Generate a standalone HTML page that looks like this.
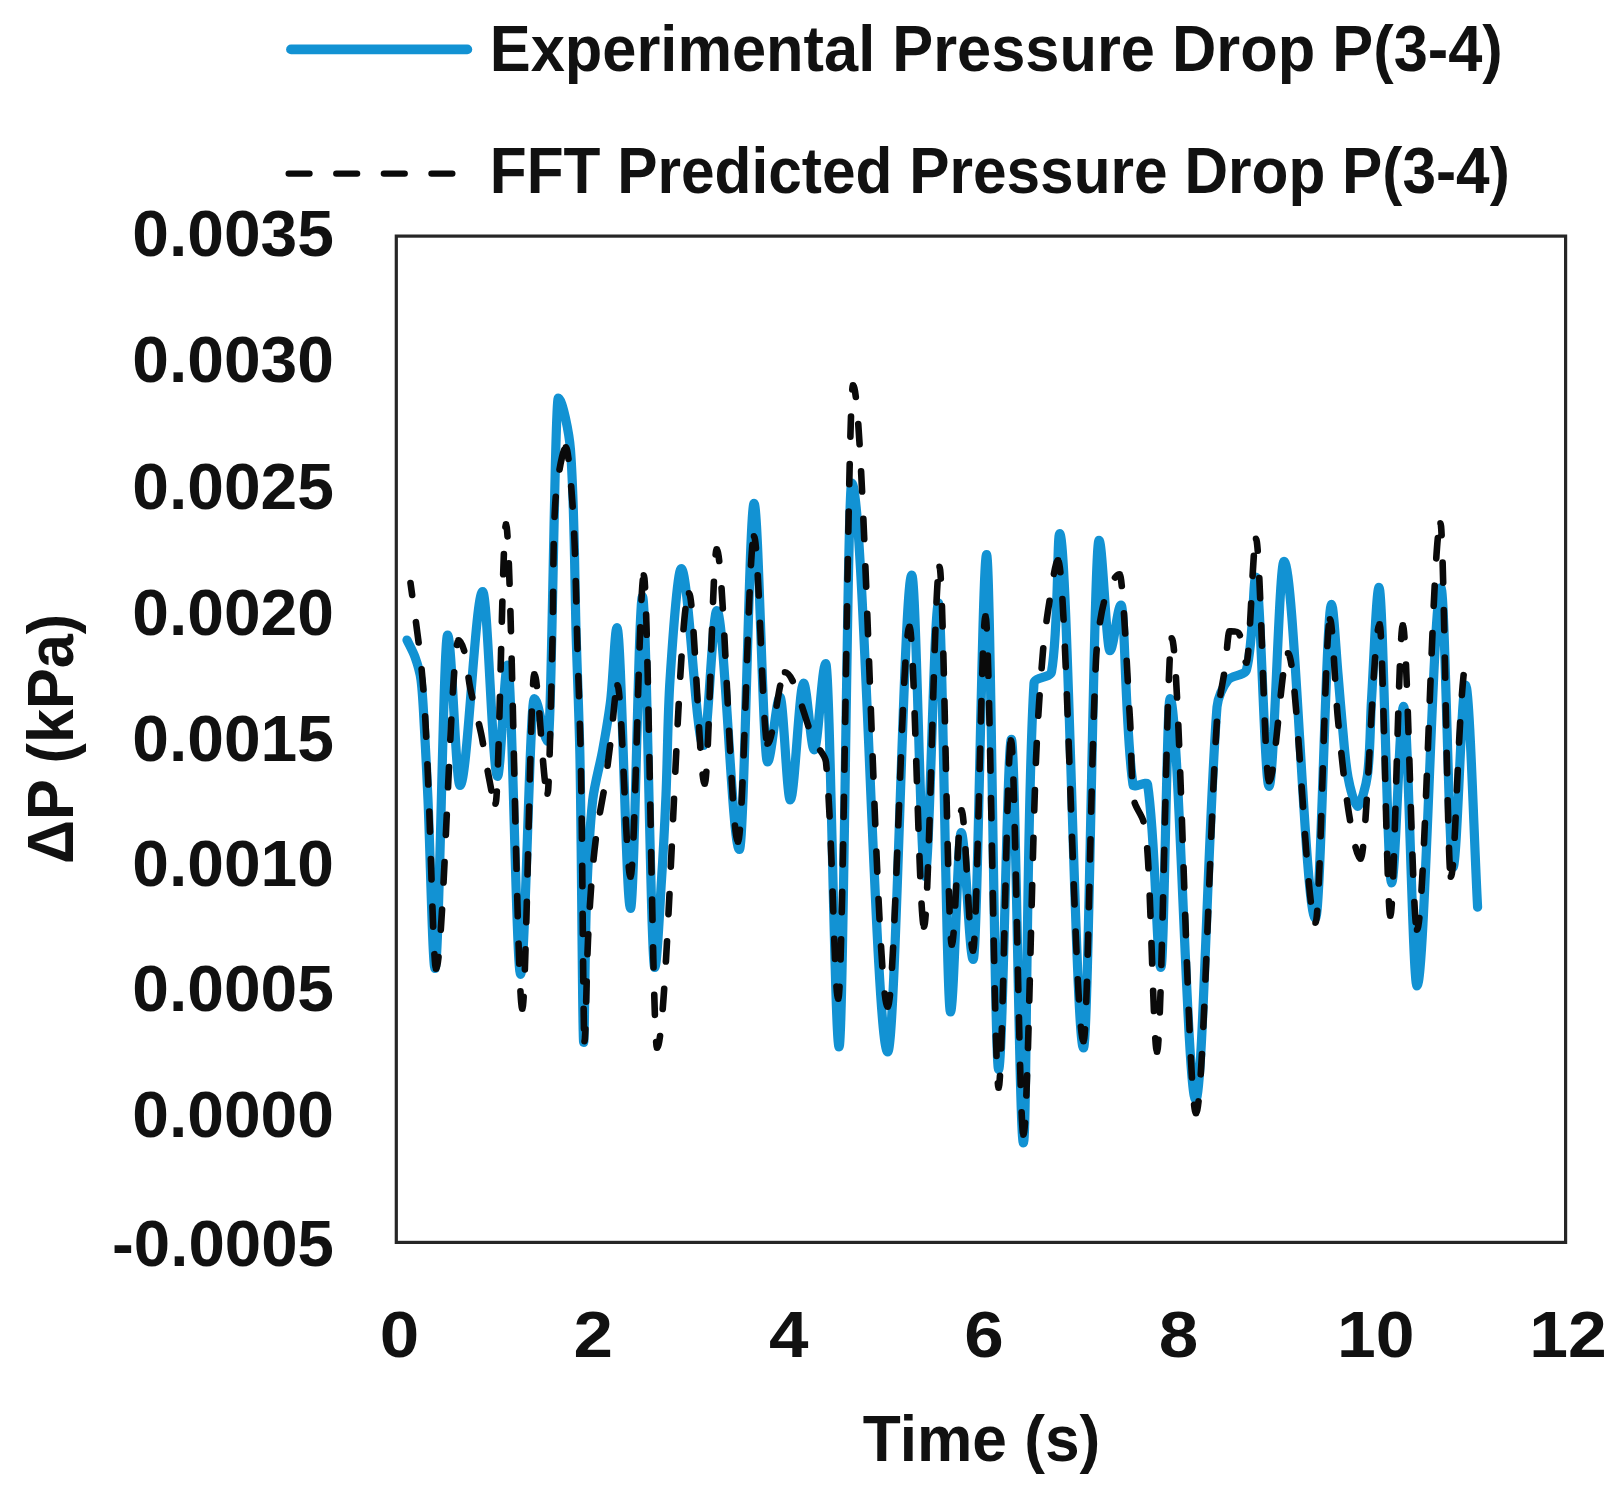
<!DOCTYPE html>
<html><head><meta charset="utf-8"><title>Pressure Drop P(3-4)</title>
<style>
html,body{margin:0;padding:0;background:#fff;}
svg{display:block}
text{font-family:"Liberation Sans",sans-serif;font-weight:bold;font-size:64px;fill:#111;}
</style></head><body>
<svg width="1619" height="1497" viewBox="0 0 1619 1497">
<rect width="1619" height="1497" fill="#fff"/>
<line x1="291" y1="49.4" x2="467.3" y2="49.4" stroke="#1292d3" stroke-width="9.8" stroke-linecap="round"/>
<line x1="288.7" y1="173.6" x2="453" y2="173.6" stroke="#0a0a0a" stroke-width="6.4" stroke-dasharray="20.8 26.8" stroke-linecap="round"/>
<text x="489.8" y="71.4" text-anchor="start" textLength="1013" lengthAdjust="spacingAndGlyphs">Experimental Pressure Drop P(3-4)</text>
<text x="489.8" y="193.3" text-anchor="start" textLength="1020" lengthAdjust="spacingAndGlyphs">FFT Predicted Pressure Drop P(3-4)</text>
<rect x="396.3" y="236.1" width="1169.3" height="1006.3000000000001" fill="none" stroke="#262626" stroke-width="3.2"/>
<text x="333.9" y="255.6" text-anchor="end" textLength="201.6" lengthAdjust="spacingAndGlyphs">0.0035</text>
<text x="333.9" y="381.7" text-anchor="end" textLength="201.6" lengthAdjust="spacingAndGlyphs">0.0030</text>
<text x="333.9" y="509.1" text-anchor="end" textLength="201.6" lengthAdjust="spacingAndGlyphs">0.0025</text>
<text x="333.9" y="635.1" text-anchor="end" textLength="201.6" lengthAdjust="spacingAndGlyphs">0.0020</text>
<text x="333.9" y="760.7" text-anchor="end" textLength="201.6" lengthAdjust="spacingAndGlyphs">0.0015</text>
<text x="333.9" y="885.6" text-anchor="end" textLength="201.6" lengthAdjust="spacingAndGlyphs">0.0010</text>
<text x="333.9" y="1011.4" text-anchor="end" textLength="201.6" lengthAdjust="spacingAndGlyphs">0.0005</text>
<text x="333.9" y="1137.3" text-anchor="end" textLength="201.6" lengthAdjust="spacingAndGlyphs">0.0000</text>
<text x="333.9" y="1266.2" text-anchor="end" textLength="221.8" lengthAdjust="spacingAndGlyphs">-0.0005</text>
<text x="399.6" y="1356.6" text-anchor="middle" textLength="39.5" lengthAdjust="spacingAndGlyphs">0</text>
<text x="593.2" y="1356.6" text-anchor="middle" textLength="39.5" lengthAdjust="spacingAndGlyphs">2</text>
<text x="788.8" y="1356.6" text-anchor="middle" textLength="39.5" lengthAdjust="spacingAndGlyphs">4</text>
<text x="983.9" y="1356.6" text-anchor="middle" textLength="39.5" lengthAdjust="spacingAndGlyphs">6</text>
<text x="1178.6" y="1356.6" text-anchor="middle" textLength="39.5" lengthAdjust="spacingAndGlyphs">8</text>
<text x="1375.7" y="1356.6" text-anchor="middle" textLength="77.5" lengthAdjust="spacingAndGlyphs">10</text>
<text x="1568.0" y="1356.6" text-anchor="middle" textLength="77.5" lengthAdjust="spacingAndGlyphs">12</text>
<text x="981.5" y="1461" text-anchor="middle" textLength="237.5" lengthAdjust="spacingAndGlyphs">Time (s)</text>
<text transform="translate(72.7,739) rotate(-90)" text-anchor="middle" textLength="250" lengthAdjust="spacingAndGlyphs">ΔP (kPa)</text>
<path d="M407.0,640.0C409.4,645.1 413.1,651.7 415.0,657.0C417.4,663.7 420.1,672.9 421.0,680.0C422.9,694.9 423.6,715.0 424.5,730.0C425.7,751.0 427.1,779.0 428.0,800.0C430.2,850.5 432.7,968.4 435.0,968.4C439.2,968.4 443.4,635.1 447.6,635.1C451.7,635.1 455.9,785.4 460.0,785.4C467.5,785.4 475.2,591.6 482.7,591.6C487.6,591.6 492.6,776.4 497.5,776.4C500.8,776.4 504.3,665.1 507.6,665.1C511.9,665.1 516.3,974.4 520.6,974.4C525.1,974.4 529.8,698.6 534.3,698.6C538.8,698.6 543.5,741.4 548.0,741.4C551.4,741.4 554.9,398.1 558.3,398.1C562.3,398.1 569.3,434.1 570.5,450.0C574.7,506.0 574.5,580.9 576.2,637.0C577.3,673.9 579.3,723.1 580.0,760.0C581.6,844.7 582.5,1042.4 583.7,1042.4C584.6,1042.4 584.9,942.7 586.5,900.0C587.6,870.0 589.5,829.9 592.7,800.0C594.3,784.8 600.0,765.1 602.7,750.0C605.4,735.0 608.9,715.1 610.7,700.0C613.2,678.3 614.9,627.6 617.0,627.6C621.5,627.6 626.0,908.4 630.5,908.4C634.5,908.4 638.5,596.6 642.5,596.6C646.6,596.6 650.7,967.4 654.8,967.4C657.0,967.4 659.8,906.2 661.5,880.0C663.2,854.5 664.9,820.5 666.0,795.0C667.5,760.5 667.7,714.4 670.0,680.0C672.2,646.5 677.5,568.6 681.2,568.6C688.5,568.6 696.1,745.4 703.4,745.4C707.9,745.4 712.4,610.6 716.9,610.6C724.3,610.6 732.0,849.4 739.4,849.4C744.3,849.4 749.2,503.4 754.1,503.4C758.5,503.4 763.1,761.9 767.5,761.9C771.6,761.9 775.9,697.1 780.0,697.1C783.4,697.1 786.9,799.9 790.3,799.9C794.7,799.9 799.2,683.1 803.6,683.1C807.1,683.1 810.7,749.9 814.2,749.9C818.0,749.9 821.9,663.6 825.7,663.6C830.1,663.6 834.7,1046.9 839.1,1046.9C843.3,1046.9 847.5,483.1 851.7,483.1C863.6,483.1 875.8,1051.9 887.7,1051.9C895.7,1051.9 903.8,575.1 911.8,575.1C916.2,575.1 920.6,876.4 925.0,876.4C929.5,876.4 934.0,603.1 938.5,603.1C942.5,603.1 946.5,1011.9 950.5,1011.9C954.0,1011.9 957.7,832.6 961.2,832.6C965.2,832.6 969.2,959.4 973.2,959.4C977.6,959.4 982.2,554.6 986.6,554.6C990.6,554.6 994.6,1069.4 998.6,1069.4C1002.8,1069.4 1007.2,739.3 1011.4,739.3C1015.4,739.3 1019.4,1142.8 1023.4,1142.8C1026.9,1142.8 1025.8,820.7 1034.0,683.0C1034.4,676.8 1050.4,678.1 1051.5,672.0C1058.6,631.0 1057.0,533.6 1059.7,533.6C1067.6,533.6 1075.6,1047.9 1083.5,1047.9C1088.6,1047.9 1093.9,540.3 1099.0,540.3C1102.6,540.3 1106.4,650.7 1110.0,650.7C1113.6,650.7 1117.4,605.1 1121.0,605.1C1125.0,605.1 1125.1,731.2 1133.0,784.6C1133.6,788.9 1146.9,780.3 1147.6,784.6C1155.9,839.0 1156.6,967.4 1161.0,967.4C1164.0,967.4 1167.0,698.6 1170.0,698.6C1178.5,698.6 1187.2,1099.9 1195.7,1099.9C1202.7,1099.9 1207.9,824.7 1217.0,707.0C1217.7,698.3 1222.6,686.9 1228.0,680.0C1231.9,675.0 1244.8,675.8 1246.5,669.7C1253.8,642.8 1252.8,577.1 1255.9,577.1C1260.2,577.1 1264.7,786.4 1269.0,786.4C1274.0,786.4 1279.0,561.3 1284.0,561.3C1294.4,561.3 1305.1,918.4 1315.5,918.4C1320.8,918.4 1326.2,604.3 1331.5,604.3C1333.6,604.3 1336.1,653.1 1338.0,674.0C1339.4,689.9 1341.0,711.1 1342.5,727.0C1344.0,742.0 1345.2,762.2 1348.0,777.0C1349.7,786.1 1354.4,806.4 1357.5,806.4C1360.8,806.4 1366.2,784.8 1367.5,775.0C1370.4,752.7 1370.1,722.5 1371.5,700.0C1373.6,666.2 1376.5,587.3 1379.0,587.3C1383.2,587.3 1387.4,882.9 1391.6,882.9C1395.6,882.9 1399.6,706.4 1403.6,706.4C1408.0,706.4 1412.6,985.9 1417.0,985.9C1424.9,985.9 1433.1,587.6 1441.0,587.6C1445.0,587.6 1449.0,867.4 1453.0,867.4C1457.2,867.4 1461.4,685.1 1465.6,685.1C1469.6,685.1 1474.0,840.6 1477.6,907.2" fill="none" stroke="#1292d3" stroke-width="9.2" stroke-linecap="round" stroke-linejoin="round"/>
<path d="M410.5,583.0C413.4,604.3 417.6,632.7 420.0,654.0C421.8,669.3 423.5,689.7 424.5,705.0C426.1,730.5 427.4,764.5 428.5,790.0C430.8,843.6 433.5,968.7 436.0,968.7M436.0,968.7C443.4,968.7 451.1,640.3 458.5,640.3M458.5,640.3C460.5,640.3 463.6,648.2 464.5,652.0C467.1,662.6 468.0,677.3 470.2,688.0C473.0,701.9 478.3,720.1 481.2,734.0C483.9,747.1 486.3,764.9 489.0,778.0C490.6,785.8 493.4,803.7 495.5,803.7M495.5,803.7C499.0,803.7 502.5,524.3 506.0,524.3M506.0,524.3C511.4,524.3 516.9,1008.7 522.3,1008.7M522.3,1008.7C526.3,1008.7 530.3,674.3 534.3,674.3M534.3,674.3C538.7,674.3 543.2,793.7 547.6,793.7M547.6,793.7C549.2,793.7 551.3,686.1 552.5,640.0C553.6,598.0 552.6,541.9 555.5,500.0C556.6,483.9 562.5,447.3 566.0,447.3M566.0,447.3C568.5,447.3 572.3,498.1 573.5,520.0C575.7,559.0 576.3,611.0 577.5,650.0C578.6,686.0 580.4,734.0 581.0,770.0C582.5,851.4 583.3,1041.2 584.5,1041.2M584.5,1041.2C585.7,1041.2 586.6,970.3 588.0,940.0C588.9,920.8 590.4,895.2 592.0,876.0C593.1,862.2 595.1,843.7 597.0,830.0C599.0,816.1 602.9,797.8 605.0,784.0C607.1,770.2 609.3,751.8 611.0,738.0C613.0,722.2 615.4,685.3 617.5,685.3M617.5,685.3C621.8,685.3 626.2,876.7 630.5,876.7M630.5,876.7C634.9,876.7 639.4,575.3 643.8,575.3M643.8,575.3C648.2,575.3 652.6,1047.7 657.0,1047.7M657.0,1047.7C667.6,1047.7 678.4,593.3 689.0,593.3M689.0,593.3C694.2,593.3 699.5,783.7 704.7,783.7M704.7,783.7C708.7,783.7 712.7,549.3 716.7,549.3M716.7,549.3C723.7,549.3 731.0,841.7 738.0,841.7M738.0,841.7C743.3,841.7 748.7,536.3 754.0,536.3M754.0,536.3C758.5,536.3 763.0,743.7 767.5,743.7M767.5,743.7C773.3,743.7 779.2,672.3 785.0,672.3M785.0,672.3C794.6,672.3 804.7,720.7 814.0,741.0C817.0,747.6 825.3,754.8 826.0,762.0C832.7,832.8 834.2,998.7 838.3,998.7M838.3,998.7C843.2,998.7 848.1,385.3 853.0,385.3M853.0,385.3C864.5,385.3 876.2,1006.7 887.7,1006.7M887.7,1006.7C894.9,1006.7 902.3,626.8 909.5,626.8M909.5,626.8C914.3,626.8 919.2,926.7 924.0,926.7M924.0,926.7C929.1,926.7 934.4,566.8 939.5,566.8M939.5,566.8C943.6,566.8 947.7,944.7 951.8,944.7M951.8,944.7C955.0,944.7 958.3,810.3 961.5,810.3M961.5,810.3C965.3,810.3 969.2,950.7 973.0,950.7M973.0,950.7C977.1,950.7 981.4,616.3 985.5,616.3M985.5,616.3C989.8,616.3 994.3,1087.7 998.6,1087.7M998.6,1087.7C1002.7,1087.7 1006.9,740.3 1011.0,740.3M1011.0,740.3C1015.1,740.3 1019.3,1134.7 1023.4,1134.7M1023.4,1134.7C1027.6,1134.7 1031.4,872.4 1036.0,760.0C1037.3,727.3 1040.2,683.6 1043.0,651.0C1044.4,635.0 1047.4,613.8 1050.0,598.0C1051.9,586.6 1055.4,560.3 1058.0,560.3M1058.0,560.3C1066.4,560.3 1075.1,1041.2 1083.5,1041.2M1083.5,1041.2C1087.6,1041.2 1090.5,774.3 1096.0,660.0C1096.9,641.2 1100.0,616.1 1105.0,598.0C1107.2,589.9 1114.8,574.3 1119.6,574.3M1119.6,574.3C1123.0,574.3 1127.2,676.3 1130.0,720.0C1131.5,744.0 1130.8,776.2 1134.0,800.0C1135.0,807.1 1142.0,815.0 1143.6,822.0C1146.2,833.2 1147.3,848.5 1148.0,860.0C1151.4,917.5 1154.0,1051.7 1157.0,1051.7M1157.0,1051.7C1161.9,1051.7 1166.8,638.3 1171.7,638.3M1171.7,638.3C1179.7,638.3 1188.0,1113.2 1196.0,1113.2M1196.0,1113.2C1202.9,1113.2 1209.3,837.9 1217.0,720.0C1218.0,704.2 1222.8,683.6 1225.0,668.0C1226.5,657.0 1228.0,631.3 1229.5,631.3M1229.5,631.3C1232.6,631.3 1237.6,630.9 1239.0,633.5C1243.3,641.5 1244.0,662.7 1246.5,662.7M1246.5,662.7C1249.6,662.7 1252.9,538.8 1256.0,538.8M1256.0,538.8C1260.3,538.8 1264.7,781.3 1269.0,781.3M1269.0,781.3C1275.3,781.3 1281.7,653.3 1288.0,653.3M1288.0,653.3C1297.1,653.3 1306.4,922.7 1315.5,922.7M1315.5,922.7C1320.3,922.7 1325.2,619.3 1330.0,619.3M1330.0,619.3C1332.6,619.3 1335.1,689.8 1338.0,720.0C1340.8,748.3 1344.5,786.0 1349.0,814.0C1351.2,827.7 1356.7,858.7 1360.5,858.7M1360.5,858.7C1366.8,858.7 1373.3,624.3 1379.6,624.3M1379.6,624.3C1383.1,624.3 1386.8,915.7 1390.3,915.7M1390.3,915.7C1394.4,915.7 1398.7,625.3 1402.8,625.3M1402.8,625.3C1407.5,625.3 1412.3,929.7 1417.0,929.7M1417.0,929.7C1424.8,929.7 1432.7,523.3 1440.5,523.3M1440.5,523.3C1443.9,523.3 1447.4,876.7 1450.8,876.7M1450.8,876.7C1455.0,876.7 1457.5,736.0 1463.5,676.0C1464.2,668.6 1470.2,659.9 1473.0,653.0" fill="none" stroke-dashoffset="8" stroke="#0a0a0a" stroke-width="6.6" stroke-dasharray="20.2 27.3" stroke-linecap="round" stroke-linejoin="round"/>
</svg></body></html>
